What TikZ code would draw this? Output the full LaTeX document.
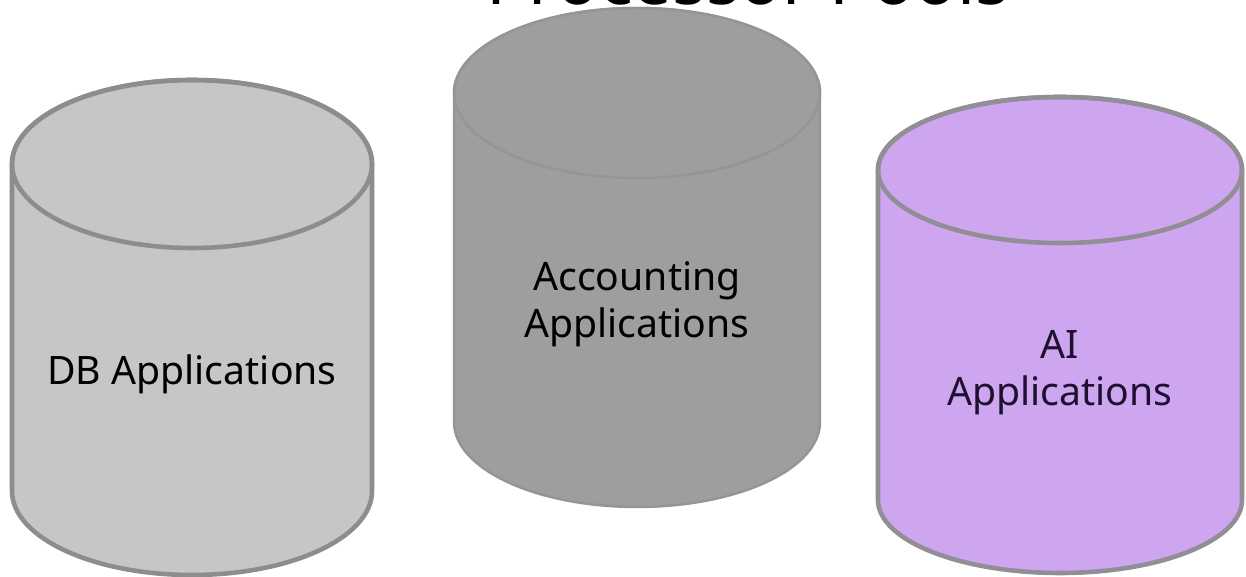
\documentclass[tikz,border=0pt]{standalone}
\usepackage{fontspec}
\setmainfont{Noto Sans}

\definecolor{dbfill}{HTML}{C6C6C6}
\definecolor{dbline}{HTML}{8D8D8D}
\definecolor{accfill}{HTML}{9E9E9E}
\definecolor{accline}{HTML}{959595}
\definecolor{aifill}{HTML}{CDA6EF}
\definecolor{ailine}{HTML}{918E96}
\definecolor{aitext}{HTML}{1E1030}

\begin{document}
\begin{tikzpicture}[x=0.02cm, y=0.02cm,
  apptext/.style={align=center, font=\fontsize{22.3}{26.7}\selectfont},
  titletext/.style={anchor=base west, inner sep=0pt, font=\fontsize{40}{48}\selectfont}]

\useasboundingbox (0,0) rectangle (1246,577);
\clip (0,0) rectangle (1246,577);

% title line, mostly above the page edge
\node[titletext] (title) at (486,572) {Processor Pools};

% DB pool
\draw [dbline, fill=dbfill, line width=2.6pt]
  (12,413) -- (12,86) arc[start angle=180, end angle=360, x radius=180, y radius=84]
  -- (372,413) arc[start angle=0, end angle=180, x radius=180, y radius=84] -- cycle;
\draw [dbline, line width=2.6pt] (192,413) ellipse [x radius=180, y radius=84];
\node[apptext] (db) at (192,203) {DB Applications};

% Accounting pool
\draw [accline, fill=accfill, line width=1.4pt]
  (454,484) -- (454,155) arc[start angle=180, end angle=360, x radius=183, y radius=85]
  -- (820,484) arc[start angle=0, end angle=180, x radius=183, y radius=85] -- cycle;
\draw [accline, line width=1.4pt] (637,484) ellipse [x radius=183, y radius=85];
\node[apptext] (acc) at (637,273) {Accounting\\Applications};

% AI pool
\draw [ailine, fill=aifill, line width=2.6pt]
  (878,407) -- (878,77) arc[start angle=180, end angle=360, x radius=182, y radius=73]
  -- (1242,407) arc[start angle=0, end angle=180, x radius=182, y radius=73] -- cycle;
\draw [ailine, line width=2.6pt] (1060,407) ellipse [x radius=182, y radius=73];
\node[apptext, text=aitext] (ai) at (1060,204) {AI\\Applications};

\end{tikzpicture}
\end{document}
